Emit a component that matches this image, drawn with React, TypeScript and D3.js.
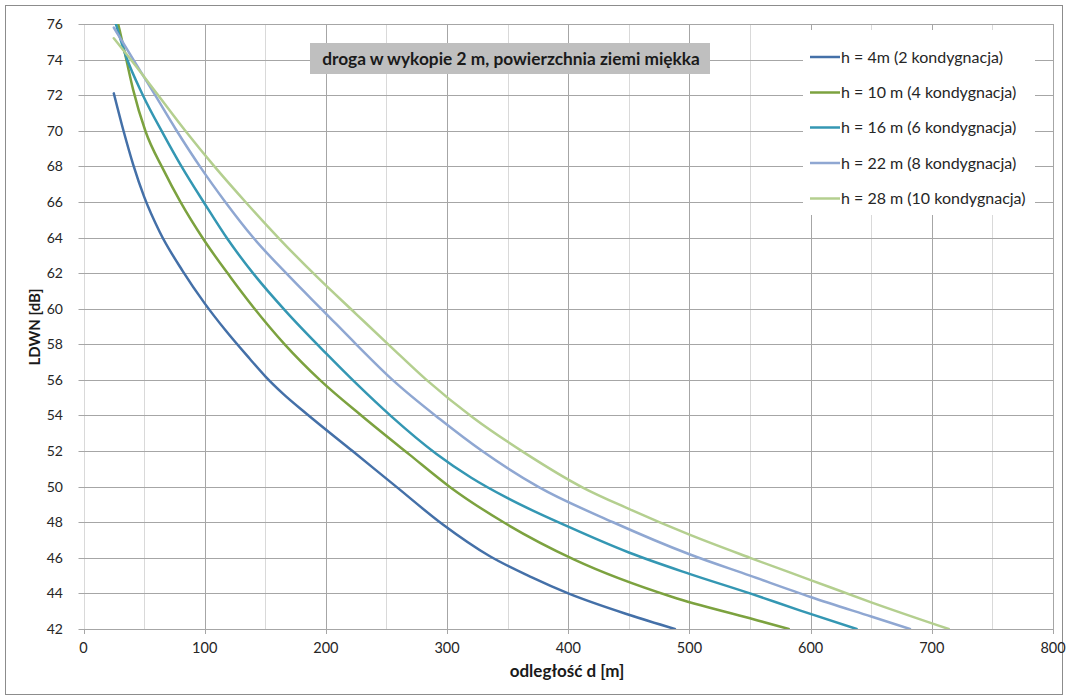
import React from 'react';
import * as d3 from 'd3';

// ---- data ----
const xTickValues = [0, 100, 200, 300, 400, 500, 600, 700, 800];
const xMinorValues = [50, 150, 250, 350, 450, 550, 650, 750];
const yTickValues = [42, 44, 46, 48, 50, 52, 54, 56, 58, 60, 62, 64, 66, 68, 70, 72, 74, 76];

const seriesNames = [
  'h = 4m (2 kondygnacja)',
  'h = 10 m (4 kondygnacja)',
  'h = 16 m (6 kondygnacja)',
  'h = 22 m (8 kondygnacja)',
  'h = 28 m (10 kondygnacja)',
];
const seriesColors = ['#4470a8', '#7ca23f', '#3497b3', '#8fa7d2', '#b4cf8f'];

const dist4 = [25, 33, 41, 50, 63, 82, 100, 117, 137, 150, 165, 184, 222, 258, 296, 335, 370, 400, 450, 488];
const ldwn4 = [72.1, 70.0, 68.1, 66.3, 64.3, 62.1, 60.3, 58.8, 57.2, 56.2, 55.2, 54.1, 52.0, 50.0, 47.9, 46.1, 44.9, 44.0, 42.8, 42.0];

const dist10 = [25, 30, 35, 41, 51, 66, 80, 99, 121, 140, 166, 195, 231, 269, 302, 349, 405, 486, 550, 582];
const ldwn10 = [77.0, 75.6, 74.1, 72.3, 70.0, 67.8, 66.0, 63.9, 61.8, 60.1, 58.0, 56.0, 53.9, 51.8, 50.0, 47.9, 45.9, 43.8, 42.6, 42.0];

const dist16 = [25, 35, 49, 66, 80, 100, 119, 141, 167, 200, 225, 254, 291, 320, 350, 400, 450, 500, 550, 591, 638];
const ldwn16 = [76.4, 74.2, 72.0, 69.8, 68.1, 65.9, 63.9, 61.9, 59.85, 57.5, 55.8, 53.95, 51.85, 50.5, 49.35, 47.75, 46.3, 45.1, 44.0, 43.05, 42.0];

const dist22 = [25, 42, 60, 76, 97, 117, 140, 170, 199, 225, 255, 294, 329, 375, 437, 500, 550, 600, 650, 682];
const ldwn22 = [75.8, 73.9, 71.9, 70.1, 67.9, 66.0, 64.0, 61.8, 59.8, 58.0, 56.0, 53.8, 52.0, 50.0, 48.0, 46.2, 45.0, 43.8, 42.7, 42.0];

const dist28 = [25, 39, 61, 84, 108, 135, 162, 194, 225, 253, 283, 321, 364, 412, 450, 500, 550, 600, 650, 714];
const ldwn28 = [75.2, 74.0, 72.05, 70.0, 68.0, 65.9, 63.9, 61.7, 59.7, 57.9, 56.0, 53.9, 51.9, 49.95, 48.75, 47.3, 46.0, 44.75, 43.5, 42.0];

const seriesDist = [dist4, dist10, dist16, dist22, dist28];
const seriesLdwn = [ldwn4, ldwn10, ldwn16, ldwn22, ldwn28];

const titleText = 'droga w wykopie 2 m, powierzchnia ziemi miękka';
const xTitle = 'odległość d [m]';
const yTitle = 'LDWN [dB]';

const FONT = "Lato, 'Open Sans', sans-serif";

export default function App() {
  const left = 83.5, right = 1053, top = 24, bottom = 629;
  const x = d3.scaleLinear().domain([0, 800]).range([left, right]);
  const y = d3.scaleLinear().domain([42, 76]).range([bottom, top]);
  const line = d3
    .line<[number, number]>()
    .x((d) => x(d[0]))
    .y((d) => y(d[1]))
    .curve(d3.curveMonotoneX);
  const snap = (v: number) => Math.round(v) + 0.5;

  const legendX = 803, legendY = 30, legendW = 232, legendH = 185;
  const legendRows = [57, 92.5, 127.5, 163, 198.5];

  return (
    <div style={{ position: 'fixed', left: 0, top: 0, width: 1067, height: 700, background: '#fff' }}>
      <svg width={1067} height={700} style={{ display: 'block' }}>
        <defs>
          <clipPath id="plotClip">
            <rect x={left} y={top} width={right - left} height={bottom - top} />
          </clipPath>
        </defs>
        <rect x={0} y={0} width={1067} height={700} fill="#fff" />
        <rect x={5.5} y={5.5} width={1057} height={689} fill="none" stroke="#8c8c8c" strokeWidth={1} />

        {/* minor vertical grid */}
        {xMinorValues.map((v) => (
          <line key={'mv' + v} x1={snap(x(v))} x2={snap(x(v))} y1={top} y2={bottom} stroke="#d9d9d9" strokeWidth={1} />
        ))}
        {/* major vertical grid */}
        {xTickValues.map((v) => (
          <line key={'v' + v} x1={snap(x(v))} x2={snap(x(v))} y1={top} y2={bottom + 5}
            stroke={v === 0 ? '#d9d9d9' : '#a6a6a6'} strokeWidth={1} />
        ))}
        {/* horizontal grid */}
        {yTickValues.map((v) => (
          <line key={'h' + v} x1={left - 5} x2={right} y1={snap(y(v))} y2={snap(y(v))} stroke="#a6a6a6" strokeWidth={1} />
        ))}
        <line x1={snap(x(0))} x2={snap(x(0))} y1={bottom} y2={bottom + 5} stroke="#a6a6a6" />

        {/* title box */}
        <rect x={310} y={43} width={400} height={31} fill="#bfbfbf" />
        <text x={511} y={64.5} textAnchor="middle" fontFamily={FONT} fontWeight="bold" fontSize={17.3} fill="#1a1a1a">
          {titleText}
        </text>

        {/* series */}
        <g clipPath="url(#plotClip)">
          {seriesDist.map((ds, i) => {
            const pts: [number, number][] = ds.map((d, j) => [d, seriesLdwn[i][j]]);
            return (
              <path key={'s' + i} d={line(pts) || ''} fill="none" stroke={seriesColors[i]} strokeWidth={2.5}
                strokeLinejoin="round" strokeLinecap="round" />
            );
          })}
        </g>

        {/* legend */}
        <rect x={legendX} y={legendY} width={legendW} height={legendH} fill="#fff" />
        {seriesNames.map((name, i) => (
          <g key={'l' + i}>
            <line x1={810} x2={840} y1={legendRows[i]} y2={legendRows[i]} stroke={seriesColors[i]} strokeWidth={2.5} />
            <text x={841} y={legendRows[i] + 5.5} fontFamily={FONT} fontSize={16} fill="#262626">{name}</text>
          </g>
        ))}

        {/* y tick labels */}
        {yTickValues.map((v) => (
          <text key={'yl' + v} x={63} y={y(v) + 5} textAnchor="end" fontFamily={FONT} fontSize={14} fill="#262626">
            {v}
          </text>
        ))}
        {/* x tick labels */}
        {xTickValues.map((v) => (
          <text key={'xl' + v} x={x(v)} y={653} textAnchor="middle" fontFamily={FONT} fontSize={14.5} fill="#262626">
            {v}
          </text>
        ))}

        {/* axis titles */}
        <text x={567} y={677} textAnchor="middle" fontFamily={FONT} fontWeight="bold" fontSize={17} fill="#1a1a1a">
          {xTitle}
        </text>
        <text transform="translate(40,327) rotate(-90)" textAnchor="middle" fontFamily={FONT} fontWeight="bold"
          fontSize={15} fill="#1a1a1a">
          {yTitle}
        </text>
      </svg>
    </div>
  );
}
